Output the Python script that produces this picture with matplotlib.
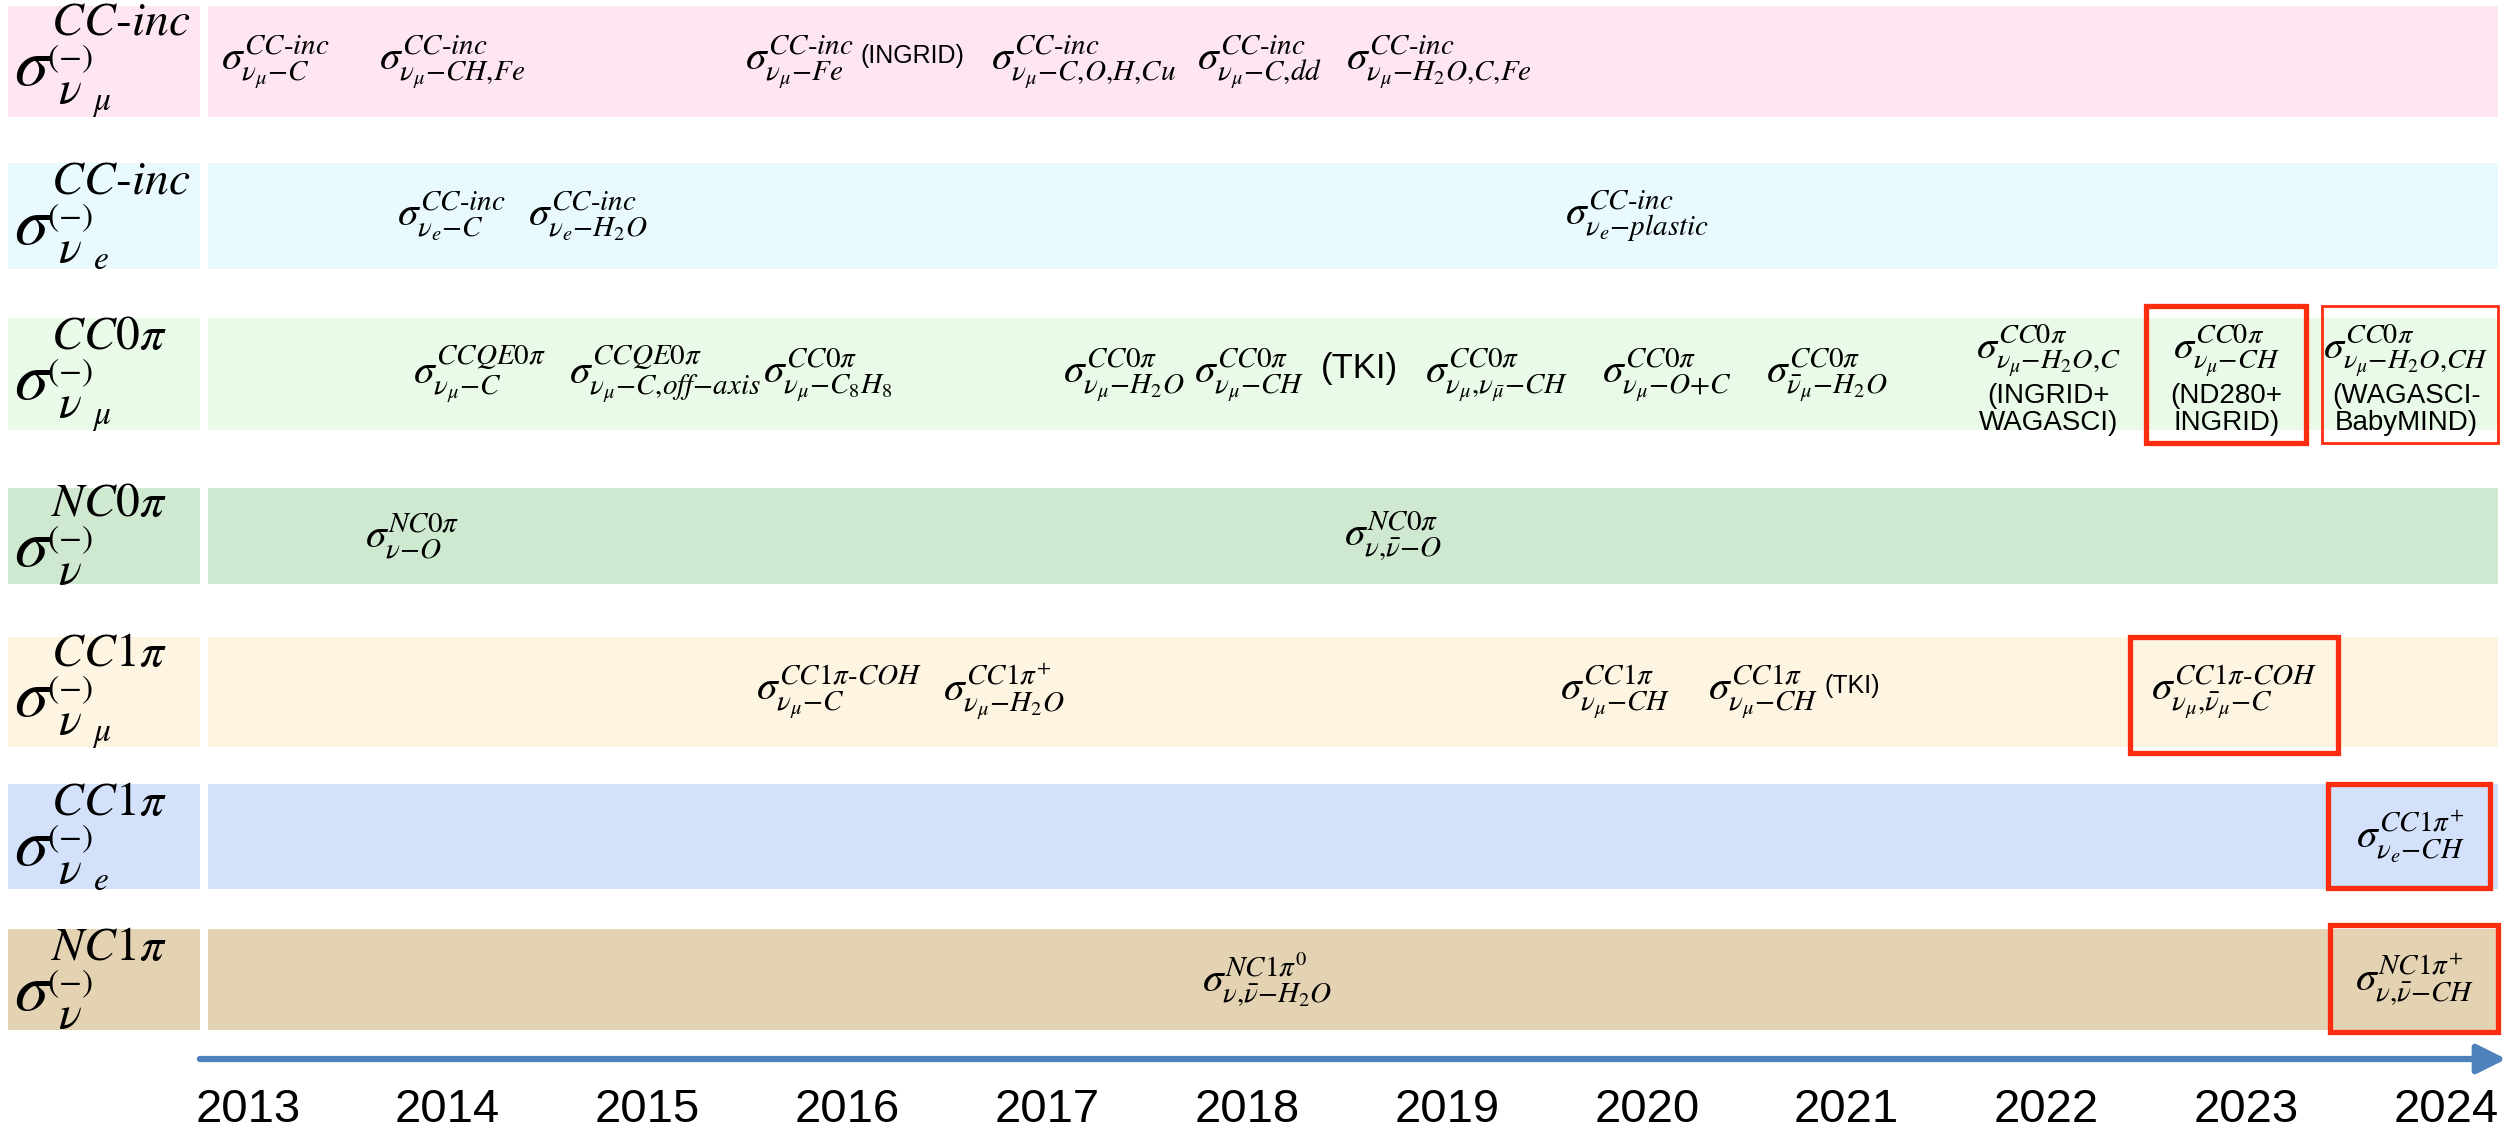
import matplotlib
matplotlib.use("Agg")
import matplotlib.pyplot as plt

plt.rcParams['mathtext.fontset'] = 'stix'
plt.rcParams['font.family'] = ['Liberation Sans', 'DejaVu Sans']

# rows of the timeline: left label and band colour
row_labels = [
    r'$\sigma^{CC\text{-}inc}_{\overset{(-)}{\nu}_{\mu}}$',
    r'$\sigma^{CC\text{-}inc}_{\overset{(-)}{\nu}_{e}}$',
    r'$\sigma^{CC0\pi}_{\overset{(-)}{\nu}_{\mu}}$',
    r'$\sigma^{NC0\pi}_{\overset{(-)}{\nu}}$',
    r'$\sigma^{CC1\pi}_{\overset{(-)}{\nu}_{\mu}}$',
    r'$\sigma^{CC1\pi}_{\overset{(-)}{\nu}_{e}}$',
    r'$\sigma^{NC1\pi}_{\overset{(-)}{\nu}}$',
]
row_colors = ['#fde5f1', '#e8fafd', '#e9fbe8', '#cfe8d0',
              '#fdf4e2', '#d3e1fb', '#e3d3b3']

years = list(range(2013, 2025))

# measurements: (row, year position, label, note, where the note goes)
entries = [
    (0, 2013.14, r'$\sigma^{CC\text{-}inc}_{\nu_{\mu}{-}C}$', None, None),
    (0, 2014.02, r'$\sigma^{CC\text{-}inc}_{\nu_{\mu}{-}CH{,}Fe}$', None, None),
    (0, 2015.76, r'$\sigma^{CC\text{-}inc}_{\nu_{\mu}{-}Fe}$', '(INGRID)', 'right'),
    (0, 2017.18, r'$\sigma^{CC\text{-}inc}_{\nu_{\mu}{-}C{,}O{,}H{,}Cu}$', None, None),
    (0, 2018.06, r'$\sigma^{CC\text{-}inc}_{\nu_{\mu}{-}C{,}dd}$', None, None),
    (0, 2018.96, r'$\sigma^{CC\text{-}inc}_{\nu_{\mu}{-}H_2O{,}C{,}Fe}$', None, None),
    (1, 2014.02, r'$\sigma^{CC\text{-}inc}_{\nu_{e}{-}C}$', None, None),
    (1, 2014.70, r'$\sigma^{CC\text{-}inc}_{\nu_{e}{-}H_2O}$', None, None),
    (1, 2019.95, r'$\sigma^{CC\text{-}inc}_{\nu_{e}{-}plastic}$', None, None),
    (2, 2014.16, r'$\sigma^{CCQE0\pi}_{\nu_{\mu}{-}C}$', None, None),
    (2, 2015.09, r'$\sigma^{CCQE0\pi}_{\nu_{\mu}{-}C{,}off{-}axis}$', None, None),
    (2, 2015.90, r'$\sigma^{CC0\pi}_{\nu_{\mu}{-}C_8H_8}$', None, None),
    (2, 2017.38, r'$\sigma^{CC0\pi}_{\nu_{\mu}{-}H_2O}$', None, None),
    (2, 2018.01, r'$\sigma^{CC0\pi}_{\nu_{\mu}{-}CH}$', '(TKI)', 'right_big'),
    (2, 2019.25, r'$\sigma^{CC0\pi}_{\nu_{\mu}{,}\nu_{\bar{\mu}}{-}CH}$', None, None),
    (2, 2020.10, r'$\sigma^{CC0\pi}_{\nu_{\mu}{-}O{+}C}$', None, None),
    (2, 2020.90, r'$\sigma^{CC0\pi}_{\bar{\nu}_{\mu}{-}H_2O}$', None, None),
    (2, 2022.01, r'$\sigma^{CC0\pi}_{\nu_{\mu}{-}H_2O{,}C}$', '(INGRID+\nWAGASCI)', 'below'),
    (2, 2022.90, r'$\sigma^{CC0\pi}_{\nu_{\mu}{-}CH}$', '(ND280+\nINGRID)', 'below'),
    (2, 2023.80, r'$\sigma^{CC0\pi}_{\nu_{\mu}{-}H_2O{,}CH}$', '(WAGASCI-\nBabyMIND)', 'below'),
    (3, 2013.82, r'$\sigma^{NC0\pi}_{\nu{-}O}$', None, None),
    (3, 2018.73, r'$\sigma^{NC0\pi}_{\nu{,}\bar{\nu}{-}O}$', None, None),
    (4, 2015.96, r'$\sigma^{CC1\pi\text{-}COH}_{\nu_{\mu}{-}C}$', None, None),
    (4, 2016.78, r'$\sigma^{CC1\pi^{+}}_{\nu_{\mu}{-}H_2O}$', None, None),
    (4, 2019.84, r'$\sigma^{CC1\pi}_{\nu_{\mu}{-}CH}$', None, None),
    (4, 2020.58, r'$\sigma^{CC1\pi}_{\nu_{\mu}{-}CH}$', '(TKI)', 'right'),
    (4, 2022.94, r'$\sigma^{CC1\pi\text{-}COH}_{\nu_{\mu}{,}\bar{\nu}_{\mu}{-}C}$', None, None),
    (5, 2023.82, r'$\sigma^{CC1\pi^{+}}_{\nu_{e}{-}CH}$', None, None),
    (6, 2018.10, r'$\sigma^{NC1\pi^{0}}_{\nu{,}\bar{\nu}{-}H_2O}$', None, None),
    (6, 2023.84, r'$\sigma^{NC1\pi^{+}}_{\nu{,}\bar{\nu}{-}CH}$', None, None),
]

# new results highlighted in red: (row, start, end, thick)
boxes = [
    (2, 2022.50, 2023.30, True),
    (2, 2023.38, 2024.26, False),
    (4, 2022.42, 2023.46, True),
    (5, 2023.41, 2024.22, True),
    (6, 2023.42, 2024.26, True),
]

# layout (vertical units = shrunk-image pixels)
row_top = [4, 102, 199, 305, 398, 490, 581]
row_bot = [73, 168, 269, 365, 467, 556, 644]
box_top = [None, None, 191, None, 398, 490, 578]
box_bot = [None, None, 277, None, 471, 555, 645]
label_x0, label_x1 = 2011.80, 2012.76
band_x0, band_x1 = 2012.80, 2024.26

fig = plt.figure(figsize=(25.07, 11.31), dpi=100)
ax = fig.add_axes([0, 0, 1, 1])
ax.set_xlim(2011.76, 2024.304)
ax.set_ylim(707, 0)
ax.axis('off')

for i, (lab, col) in enumerate(zip(row_labels, row_colors)):
    c = (row_top[i] + row_bot[i]) / 2
    h = row_bot[i] - row_top[i]
    ax.barh(c, label_x1 - label_x0, left=label_x0, height=h, color=col, zorder=1)
    ax.barh(c, band_x1 - band_x0, left=band_x0, height=h, color=col, zorder=1)
    ax.text(label_x0 + 0.03, c, lab, fontsize=49, ha='left', va='center', zorder=3)

for row, x, lab, note, where in entries:
    c = (row_top[row] + row_bot[row]) / 2
    if where == 'below':
        t = ax.text(x, c - 15, lab, fontsize=29, ha='center', va='center', zorder=3)
        ax.text(x, c + 22, note, fontsize=20, ha='center', va='center',
                linespacing=1.05, zorder=3)
    else:
        t = ax.text(x, c, lab, fontsize=30, ha='center', va='center', zorder=3)
        if where == 'right':
            ax.annotate(note, xy=(1, 0.6), xycoords=t, xytext=(5, 0),
                        textcoords='offset points', fontsize=18, va='center', ha='left')
        elif where == 'right_big':
            ax.annotate(note, xy=(1, 0.6), xycoords=t, xytext=(12, 0),
                        textcoords='offset points', fontsize=25, va='center', ha='left')

for row, x0, x1, thick in boxes:
    y0, y1 = box_top[row], box_bot[row]
    ax.barh((y0 + y1) / 2, x1 - x0, left=x0, height=y1 - y0, color='none',
            edgecolor='#ff2d0f', linewidth=3.8 if thick else 2.0, zorder=4)

# timeline arrow and years
ax.annotate('', xy=(2024.30, 662), xytext=(2012.76, 662),
            arrowprops=dict(arrowstyle='-|>,head_length=0.8,head_width=0.4',
                            color='#4f81bd', lw=4.5, mutation_scale=22,
                            shrinkA=0, shrinkB=0))
for y in years:
    ax.text(y, 694, str(y), fontsize=34, ha='center', va='center')

fig.savefig('out.png', dpi=100, facecolor='white')
